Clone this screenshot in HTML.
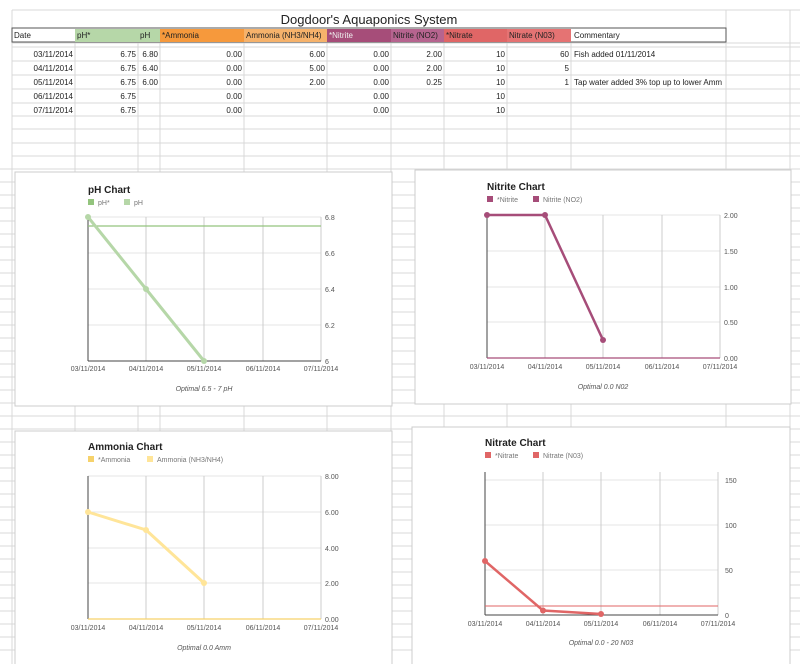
<!DOCTYPE html>
<html><head><meta charset="utf-8"><style>
html,body{margin:0;padding:0;background:#fff;}
svg{display:block;font-family:"Liberation Sans",Arial,sans-serif;}
</style></head><body>
<svg width="800" height="664" viewBox="0 0 800 664" xmlns="http://www.w3.org/2000/svg">
<rect width="800" height="664" fill="#fff"/>
<!-- grid -->
<g stroke="#d9d9d9" stroke-width="1">
<line x1="12" y1="10" x2="800" y2="10"/>
<line x1="12" y1="43" x2="800" y2="43"/>
<line x1="12" y1="47" x2="800" y2="47"/>
<line x1="12" y1="61" x2="800" y2="61"/>
<line x1="12" y1="75" x2="800" y2="75"/>
<line x1="12" y1="89" x2="800" y2="89"/>
<line x1="12" y1="103" x2="800" y2="103"/>
<line x1="12" y1="116" x2="800" y2="116"/>
<line x1="12" y1="129" x2="800" y2="129"/>
<line x1="12" y1="143" x2="800" y2="143"/>
<line x1="12" y1="156" x2="800" y2="156"/>
<line x1="0" y1="169" x2="800" y2="169"/>
<line x1="0" y1="182" x2="800" y2="182"/>
<line x1="0" y1="195" x2="800" y2="195"/>
<line x1="0" y1="208" x2="800" y2="208"/>
<line x1="0" y1="221" x2="800" y2="221"/>
<line x1="0" y1="234" x2="800" y2="234"/>
<line x1="0" y1="247" x2="800" y2="247"/>
<line x1="0" y1="260" x2="800" y2="260"/>
<line x1="0" y1="273" x2="800" y2="273"/>
<line x1="0" y1="286" x2="800" y2="286"/>
<line x1="0" y1="299" x2="800" y2="299"/>
<line x1="0" y1="312" x2="800" y2="312"/>
<line x1="0" y1="325" x2="800" y2="325"/>
<line x1="0" y1="338" x2="800" y2="338"/>
<line x1="0" y1="351" x2="800" y2="351"/>
<line x1="0" y1="364" x2="800" y2="364"/>
<line x1="0" y1="377" x2="800" y2="377"/>
<line x1="0" y1="390" x2="800" y2="390"/>
<line x1="0" y1="403" x2="800" y2="403"/>
<line x1="0" y1="416" x2="800" y2="416"/>
<line x1="0" y1="429" x2="800" y2="429"/>
<line x1="0" y1="442" x2="800" y2="442"/>
<line x1="0" y1="455" x2="800" y2="455"/>
<line x1="0" y1="468" x2="800" y2="468"/>
<line x1="0" y1="481" x2="800" y2="481"/>
<line x1="0" y1="494" x2="800" y2="494"/>
<line x1="0" y1="507" x2="800" y2="507"/>
<line x1="0" y1="520" x2="800" y2="520"/>
<line x1="0" y1="533" x2="800" y2="533"/>
<line x1="0" y1="546" x2="800" y2="546"/>
<line x1="0" y1="559" x2="800" y2="559"/>
<line x1="0" y1="572" x2="800" y2="572"/>
<line x1="0" y1="585" x2="800" y2="585"/>
<line x1="0" y1="598" x2="800" y2="598"/>
<line x1="0" y1="611" x2="800" y2="611"/>
<line x1="0" y1="624" x2="800" y2="624"/>
<line x1="0" y1="637" x2="800" y2="637"/>
<line x1="0" y1="650" x2="800" y2="650"/>
<line x1="12" y1="10" x2="12" y2="664"/>
<line x1="75" y1="28" x2="75" y2="664"/>
<line x1="138" y1="28" x2="138" y2="664"/>
<line x1="160" y1="28" x2="160" y2="664"/>
<line x1="244" y1="28" x2="244" y2="664"/>
<line x1="327" y1="28" x2="327" y2="664"/>
<line x1="391" y1="28" x2="391" y2="664"/>
<line x1="444" y1="28" x2="444" y2="664"/>
<line x1="507" y1="28" x2="507" y2="664"/>
<line x1="571" y1="28" x2="571" y2="664"/>
<line x1="726" y1="10" x2="726" y2="664"/>
<line x1="790" y1="10" x2="790" y2="664"/>
</g>
<!-- title row -->
<rect x="13" y="11" width="712" height="17" fill="#fff"/>
<text x="369" y="24" font-size="13" text-anchor="middle" fill="#222">Dogdoor's Aquaponics System</text>
<!-- header row -->
<rect x="12" y="28" width="714" height="14" fill="#fff" stroke="#555"/>
<rect x="75" y="29" width="63" height="13" fill="#b6d7a8"/>
<rect x="138" y="29" width="22" height="13" fill="#b6d7a8"/>
<rect x="160" y="29" width="84" height="13" fill="#f6993c"/>
<rect x="244" y="29" width="83" height="13" fill="#f6b26b"/>
<rect x="327" y="29" width="64" height="13" fill="#a64d79"/>
<rect x="391" y="29" width="53" height="13" fill="#b6648f"/>
<rect x="444" y="29" width="63" height="13" fill="#e06666"/>
<rect x="507" y="29" width="64" height="13" fill="#e57373"/>
<g font-size="8" fill="#222">
<text x="14" y="38">Date</text>
<text x="77" y="38">pH*</text>
<text x="140" y="38">pH</text>
<text x="162" y="38">*Ammonia</text>
<text x="246" y="38">Ammonia (NH3/NH4)</text>
<text x="329" y="38" fill="#eee">*Nitrite</text>
<text x="393" y="38">Nitrite (NO2)</text>
<text x="446" y="38">*Nitrate</text>
<text x="509" y="38">Nitrate (N03)</text>
<text x="574" y="38">Commentary</text>
</g>
<!-- data -->
<g font-size="8" fill="#222" text-anchor="end">
<text x="73" y="57">03/11/2014</text><text x="136" y="57">6.75</text><text x="158" y="57">6.80</text><text x="242" y="57">0.00</text><text x="325" y="57">6.00</text><text x="389" y="57">0.00</text><text x="442" y="57">2.00</text><text x="505" y="57">10</text><text x="569" y="57">60</text>
<text x="73" y="71">04/11/2014</text><text x="136" y="71">6.75</text><text x="158" y="71">6.40</text><text x="242" y="71">0.00</text><text x="325" y="71">5.00</text><text x="389" y="71">0.00</text><text x="442" y="71">2.00</text><text x="505" y="71">10</text><text x="569" y="71">5</text>
<text x="73" y="85">05/11/2014</text><text x="136" y="85">6.75</text><text x="158" y="85">6.00</text><text x="242" y="85">0.00</text><text x="325" y="85">2.00</text><text x="389" y="85">0.00</text><text x="442" y="85">0.25</text><text x="505" y="85">10</text><text x="569" y="85">1</text>
<text x="73" y="99">06/11/2014</text><text x="136" y="99">6.75</text><text x="242" y="99">0.00</text><text x="389" y="99">0.00</text><text x="505" y="99">10</text>
<text x="73" y="113">07/11/2014</text><text x="136" y="113">6.75</text><text x="242" y="113">0.00</text><text x="389" y="113">0.00</text><text x="505" y="113">10</text>
</g>
<g font-size="8" fill="#222">
<text x="574" y="57">Fish added 01/11/2014</text>
<text x="574" y="85">Tap water added 3% top up to lower Amm</text>
</g>

<!-- pH chart -->
<rect x="15" y="172" width="377" height="234" fill="#fff" stroke="#ccc"/>
<g stroke="#e6e6e6"><line x1="88" y1="253" x2="321" y2="253"/><line x1="88" y1="289" x2="321" y2="289"/><line x1="88" y1="325" x2="321" y2="325"/><line x1="88" y1="217" x2="321" y2="217"/></g>
<g stroke="#ccc"><line x1="146" y1="217" x2="146" y2="361"/><line x1="204" y1="217" x2="204" y2="361"/><line x1="263" y1="217" x2="263" y2="361"/><line x1="321" y1="217" x2="321" y2="361"/></g>
<line x1="88" y1="217" x2="88" y2="361" stroke="#444"/>
<line x1="88" y1="361" x2="321" y2="361" stroke="#444"/>
<line x1="88" y1="226" x2="321" y2="226" stroke="#93c47d" stroke-width="1.2"/>
<polyline points="88,217 146,289 204,361" fill="none" stroke="#b6d7a8" stroke-width="3"/>
<g fill="#b6d7a8"><circle cx="88" cy="217" r="3"/><circle cx="146" cy="289" r="3"/><circle cx="204" cy="361" r="3"/></g>
<text x="88" y="193" font-size="10" font-weight="bold" fill="#222">pH Chart</text>
<rect x="88" y="199" width="6" height="6" fill="#93c47d"/><text x="98" y="205" font-size="7" fill="#777">pH*</text>
<rect x="124" y="199" width="6" height="6" fill="#b6d7a8"/><text x="134" y="205" font-size="7" fill="#777">pH</text>
<g font-size="7" fill="#555"><text x="325" y="220">6.8</text><text x="325" y="256">6.6</text><text x="325" y="292">6.4</text><text x="325" y="328">6.2</text><text x="325" y="364">6</text></g>
<g font-size="7" fill="#555" text-anchor="middle"><text x="88" y="371">03/11/2014</text><text x="146" y="371">04/11/2014</text><text x="204" y="371">05/11/2014</text><text x="263" y="371">06/11/2014</text><text x="321" y="371">07/11/2014</text></g>
<text x="204" y="391" font-size="7" font-style="italic" fill="#555" text-anchor="middle">Optimal 6.5 - 7 pH</text>

<!-- Nitrite chart -->
<rect x="415" y="170" width="376" height="234" fill="#fff" stroke="#ccc"/>
<g stroke="#e6e6e6"><line x1="487" y1="215" x2="720" y2="215"/><line x1="487" y1="251" x2="720" y2="251"/><line x1="487" y1="287" x2="720" y2="287"/><line x1="487" y1="322" x2="720" y2="322"/></g>
<g stroke="#ccc"><line x1="545" y1="215" x2="545" y2="358"/><line x1="603" y1="215" x2="603" y2="358"/><line x1="662" y1="215" x2="662" y2="358"/><line x1="720" y1="215" x2="720" y2="358"/></g>
<line x1="487" y1="215" x2="487" y2="358" stroke="#444"/>
<line x1="487" y1="358" x2="720" y2="358" stroke="#a64d79" stroke-width="1.2"/>
<polyline points="487,215 545,215 603,340" fill="none" stroke="#a64d79" stroke-width="2.5"/>
<g fill="#a64d79"><circle cx="487" cy="215" r="3"/><circle cx="545" cy="215" r="3"/><circle cx="603" cy="340" r="3"/></g>
<text x="487" y="190" font-size="10" font-weight="bold" fill="#222">Nitrite Chart</text>
<rect x="487" y="196" width="6" height="6" fill="#a64d79"/><text x="497" y="202" font-size="7" fill="#777">*Nitrite</text>
<rect x="533" y="196" width="6" height="6" fill="#a64d79"/><text x="543" y="202" font-size="7" fill="#777">Nitrite (NO2)</text>
<g font-size="7" fill="#555"><text x="724" y="218">2.00</text><text x="724" y="254">1.50</text><text x="724" y="290">1.00</text><text x="724" y="325">0.50</text><text x="724" y="361">0.00</text></g>
<g font-size="7" fill="#555" text-anchor="middle"><text x="487" y="369">03/11/2014</text><text x="545" y="369">04/11/2014</text><text x="603" y="369">05/11/2014</text><text x="662" y="369">06/11/2014</text><text x="720" y="369">07/11/2014</text></g>
<text x="603" y="389" font-size="7" font-style="italic" fill="#555" text-anchor="middle">Optimal 0.0 N02</text>

<!-- Ammonia chart -->
<rect x="15" y="431" width="377" height="240" fill="#fff" stroke="#ccc"/>
<g stroke="#e6e6e6"><line x1="88" y1="476" x2="321" y2="476"/><line x1="88" y1="512" x2="321" y2="512"/><line x1="88" y1="548" x2="321" y2="548"/><line x1="88" y1="583" x2="321" y2="583"/></g>
<g stroke="#ccc"><line x1="146" y1="476" x2="146" y2="619"/><line x1="204" y1="476" x2="204" y2="619"/><line x1="263" y1="476" x2="263" y2="619"/><line x1="321" y1="476" x2="321" y2="619"/></g>
<line x1="88" y1="476" x2="88" y2="619" stroke="#444"/>
<line x1="88" y1="619" x2="321" y2="619" stroke="#f6d26b" stroke-width="1.2"/>
<polyline points="88,512 146,530 204,583" fill="none" stroke="#ffe599" stroke-width="3"/>
<g fill="#ffe599"><circle cx="88" cy="512" r="3"/><circle cx="146" cy="530" r="3"/><circle cx="204" cy="583" r="3"/></g>
<text x="88" y="450" font-size="10" font-weight="bold" fill="#222">Ammonia Chart</text>
<rect x="88" y="456" width="6" height="6" fill="#f6d26b"/><text x="98" y="462" font-size="7" fill="#777">*Ammonia</text>
<rect x="147" y="456" width="6" height="6" fill="#ffe599"/><text x="157" y="462" font-size="7" fill="#777">Ammonia (NH3/NH4)</text>
<g font-size="7" fill="#555"><text x="325" y="479">8.00</text><text x="325" y="515">6.00</text><text x="325" y="551">4.00</text><text x="325" y="586">2.00</text><text x="325" y="622">0.00</text></g>
<g font-size="7" fill="#555" text-anchor="middle"><text x="88" y="630">03/11/2014</text><text x="146" y="630">04/11/2014</text><text x="204" y="630">05/11/2014</text><text x="263" y="630">06/11/2014</text><text x="321" y="630">07/11/2014</text></g>
<text x="204" y="650" font-size="7" font-style="italic" fill="#555" text-anchor="middle">Optimal 0.0 Amm</text>

<!-- Nitrate chart -->
<rect x="412" y="427" width="378" height="245" fill="#fff" stroke="#ccc"/>
<g stroke="#e6e6e6"><line x1="485" y1="480" x2="718" y2="480"/><line x1="485" y1="525" x2="718" y2="525"/><line x1="485" y1="570" x2="718" y2="570"/></g>
<g stroke="#ccc"><line x1="543" y1="472" x2="543" y2="615"/><line x1="601" y1="472" x2="601" y2="615"/><line x1="660" y1="472" x2="660" y2="615"/><line x1="718" y1="472" x2="718" y2="615"/></g>
<line x1="485" y1="472" x2="485" y2="615" stroke="#444"/>
<line x1="485" y1="615" x2="718" y2="615" stroke="#444"/>
<line x1="485" y1="606" x2="718" y2="606" stroke="#e06666" stroke-width="1"/>
<polyline points="485,561 543,610.5 601,614" fill="none" stroke="#e06666" stroke-width="2.5"/>
<g fill="#e06666"><circle cx="485" cy="561" r="3"/><circle cx="543" cy="610.5" r="3"/><circle cx="601" cy="614" r="3"/></g>
<text x="485" y="446" font-size="10" font-weight="bold" fill="#222">Nitrate Chart</text>
<rect x="485" y="452" width="6" height="6" fill="#e06666"/><text x="495" y="458" font-size="7" fill="#777">*Nitrate</text>
<rect x="533" y="452" width="6" height="6" fill="#e06666"/><text x="543" y="458" font-size="7" fill="#777">Nitrate (N03)</text>
<g font-size="7" fill="#555"><text x="725" y="483">150</text><text x="725" y="528">100</text><text x="725" y="573">50</text><text x="725" y="618">0</text></g>
<g font-size="7" fill="#555" text-anchor="middle"><text x="485" y="626">03/11/2014</text><text x="543" y="626">04/11/2014</text><text x="601" y="626">05/11/2014</text><text x="660" y="626">06/11/2014</text><text x="718" y="626">07/11/2014</text></g>
<text x="601" y="645" font-size="7" font-style="italic" fill="#555" text-anchor="middle">Optimal 0.0 - 20 N03</text>
</svg>
</body></html>
